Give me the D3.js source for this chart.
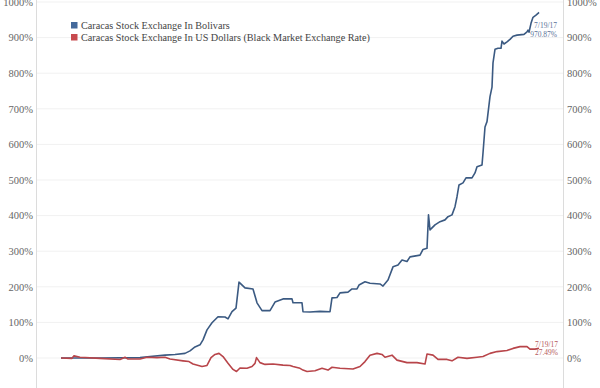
<!DOCTYPE html>
<html>
<head>
<meta charset="utf-8">
<script src="https://cdn.jsdelivr.net/npm/d3@7"></script>
<style>
  html, body { margin: 0; padding: 0; background: #fff; }
  svg { display: block; }
</style>
</head>
<body>
<svg id="chart" width="600" height="388"></svg>
<script>
// ---- data (period index since start, % change) ----
const bolivarsT = [0,39,79,89,104,114,124,129,134,139,142,146,151,157,164,167,171,175,178,184,192,196,201,209,214,222,231,232,241,242,249,259,269,271,276,279,287,291,296,298,304,309,319,322,327,332,337,341,346,349,359,362,366,367.5,369,374,379,384,387,391,394,396,398,402,405,411,414,416,421,422,424,426,429,431,432,434,437,440,441,443,446,449,452,456,463,466,467,468,470,472,475,477,478];
const bolivars  = [0,0,1,4,8,10,13,20,31,37,51,79,99,116,115,110,130,140,213,197,194,155,133,133,157,166,166,155,155,130,129,131,130,169,170,183,185,194,194,205,214,210,208,202,219,256,261,275,271,284,289,305,308,402,360,374,383,388,397,402,425,453,486,492,506,506,520,537,542,576,649,664,734,761,829,867,870,870,890,882,888,895,904,907,909,916,921,915,940,957,963,968,970.87];

const dollarsT = [0,11,13,19,39,59,64,67,79,86,96,104,109,122,128,132,141,146,150,154,158,162,167,172,175.5,179,186,191,194,195.5,199,204,212,222,229,232,239,242,246,254,261,267,271,279,292,299,304,309,316,321,324,331,336,346,356,364,366,372,377,386,391,397,406,416,422,429,436,446,452,459,466,469,474,478];
const dollars  = [0,-1,6,2,-1,-4,2,-3,-3,2,1,2,-3,-8,-10,-17,-24,-21,1,10,13,4,-15,-32,-38,-28,-29,-24,-15,1,-13,-18,-17,-20,-21,-24,-29,-34,-38,-36,-29,-34,-26,-29,-31,-24,-10,8,13,10,2,8,-6,-13,-13,-17,11,8,-4,-4,-8,2,-1,2,4,13,18,21,27,32,32,25,25,27.49];

const seriesNames = ["Caracas Stock Exchange In Bolivars",
                     "Caracas Stock Exchange In US Dollars (Black Market Exchange Rate)"];
const seriesColors = ["#3b5a82", "#b8454a"];
const legendColors = ["#44699b", "#c74a4e"];
const leftTicks  = [0,100,200,300,400,500,600,700,800,900,1000];
const rightTicks = [-100,0,100,200,300,400,500,600,700,800,900,1000];
const endDate = "7/19/17";

// ---- drawing ----
const svg = d3.select("#chart");
const W = 600, H = 388;
const axL = 36, axR = 563;

const x = d3.scaleLinear().domain([0, 478]).range([61, 539]);
const y = d3.scaleLinear().domain([0, 1000]).range([358, 2]);

const font = "'Liberation Serif', 'DejaVu Serif', serif";

// gridlines
svg.append("g").selectAll("line").data(rightTicks).join("line")
  .attr("x1", axL).attr("x2", axR)
  .attr("y1", d => y(d)).attr("y2", d => y(d))
  .attr("stroke", "#f1f1f1").attr("stroke-width", 1);

// axis lines
svg.append("line").attr("x1", axL + 0.5).attr("x2", axL + 0.5).attr("y1", 0).attr("y2", H)
  .attr("stroke", "#dcdcdc");
svg.append("line").attr("x1", axR + 0.5).attr("x2", axR + 0.5).attr("y1", 0).attr("y2", H)
  .attr("stroke", "#dcdcdc");

// left axis
const leftAxis = d3.axisLeft(y).tickValues(leftTicks).tickSize(0).tickPadding(3)
  .tickFormat(d => d + "%");
const gL = svg.append("g").attr("transform", `translate(${axL},0)`).call(leftAxis);
gL.select(".domain").remove();
gL.selectAll("text").attr("font-family", font).attr("font-size", 10.5).attr("fill", "#666");

// right axis
const rightAxis = d3.axisRight(y).tickValues(rightTicks).tickSize(0).tickPadding(4)
  .tickFormat(d => d + "%");
const gR = svg.append("g").attr("transform", `translate(${axR},0)`).call(rightAxis);
gR.select(".domain").remove();
gR.selectAll("text").attr("font-family", font).attr("font-size", 10.5).attr("fill", "#666");

// lines
const line = d3.line().x(d => x(d[0])).y(d => y(d[1]));
const bData = bolivarsT.map((t, i) => [t, bolivars[i]]);
const dData = dollarsT.map((t, i) => [t, dollars[i]]);

svg.append("path").datum(bData).attr("d", line)
  .attr("fill", "none").attr("stroke", seriesColors[0]).attr("stroke-width", 1.6)
  .attr("stroke-linejoin", "round");
svg.append("path").datum(dData).attr("d", line)
  .attr("fill", "none").attr("stroke", seriesColors[1]).attr("stroke-width", 1.6)
  .attr("stroke-linejoin", "round");

// end annotations
const lastB = bData[bData.length - 1], lastD = dData[dData.length - 1];
const annB = svg.append("g").attr("font-family", font).attr("font-size", 7.5)
  .attr("fill", "#5b7398").attr("text-anchor", "end");
annB.append("text").attr("x", 557).attr("y", y(lastB[1]) + 16).text(endDate);
annB.append("text").attr("x", 557).attr("y", y(lastB[1]) + 24.5).text(d3.format(".2f")(lastB[1]) + "%");
const annD = svg.append("g").attr("font-family", font).attr("font-size", 7.5)
  .attr("fill", "#b5595c").attr("text-anchor", "end");
annD.append("text").attr("x", 558).attr("y", y(lastD[1]) - 1.5).text(endDate);
annD.append("text").attr("x", 558).attr("y", y(lastD[1]) + 7).text(d3.format(".2f")(lastD[1]) + "%");

// legend
const lg = svg.append("g").attr("transform", "translate(71,22)");
seriesNames.forEach((name, i) => {
  lg.append("rect").attr("x", 0).attr("y", i * 12).attr("width", 6.5).attr("height", 6.5)
    .attr("fill", legendColors[i]);
  lg.append("text").attr("x", 10).attr("y", i * 12 + 6.5)
    .attr("font-family", font).attr("font-size", 10.2).attr("fill", "#444")
    .text(name);
});
</script>
</body>
</html>
